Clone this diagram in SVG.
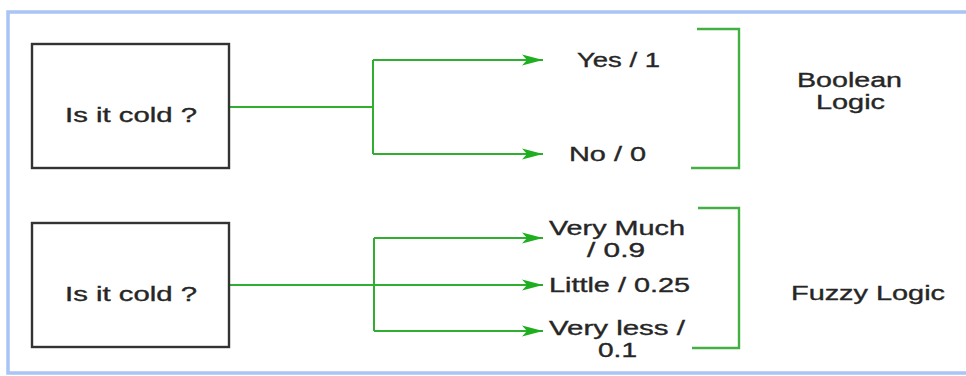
<svg xmlns="http://www.w3.org/2000/svg" width="966" height="376" viewBox="0 0 966 376">
  <style>
    .frame { fill: #ffffff; stroke: #a9c4f5; stroke-width: 3.5; }
    .box { fill: #ffffff; stroke: #333333; stroke-width: 2.4; }
    .lbl { font-family: "Liberation Sans", Arial, sans-serif; font-size: 20px; fill: #262626; stroke: #262626; stroke-width: 0.35; }
    .wire { fill: none; stroke: #2fae2f; stroke-width: 2; }
    .brk { fill: none; stroke: #44b044; stroke-width: 2.4; }
  </style>
  <defs>
    <marker id="arr" markerUnits="userSpaceOnUse" markerWidth="24" markerHeight="14" refX="21" refY="6" orient="auto">
      <path d="M0,0.5 L21,6 L0,11.5 L5,6 Z" fill="#1fae1f"/>
    </marker>
  </defs>
  <rect class="frame" x="8" y="12" width="990" height="361"/>

  <g id="connectors">
    <path class="wire" d="M229,107 H373"/>
    <path class="wire" d="M373,60 V154"/>
    <path class="wire" d="M373,60 H543" marker-end="url(#arr)"/>
    <path class="wire" d="M373,154 H543" marker-end="url(#arr)"/>
    <path class="wire" d="M374,238 V331"/>
    <path class="wire" d="M374,238 H543" marker-end="url(#arr)"/>
    <path class="wire" d="M229,285 H543" marker-end="url(#arr)"/>
    <path class="wire" d="M374,331 H543" marker-end="url(#arr)"/>
    <path class="brk" d="M697,29 H739 V168 H691"/>
    <path class="brk" d="M698,208 H739 V348 H692"/>
  </g>

  <g id="q1">
    <rect class="box" x="32" y="44" width="197" height="124"/>
    <text class="lbl" x="65" y="122" textLength="132" lengthAdjust="spacingAndGlyphs">Is it cold ?</text>
  </g>
  <g id="q2">
    <rect class="box" x="32" y="223" width="197" height="124"/>
    <text class="lbl" x="65" y="301" textLength="132" lengthAdjust="spacingAndGlyphs">Is it cold ?</text>
  </g>
  <g id="yes">
    <text class="lbl" x="577" y="67" textLength="83" lengthAdjust="spacingAndGlyphs">Yes / 1</text>
  </g>
  <g id="no">
    <text class="lbl" x="569" y="161" textLength="77" lengthAdjust="spacingAndGlyphs">No / 0</text>
  </g>
  <g id="verymuch">
    <text class="lbl" x="549" y="235" textLength="136" lengthAdjust="spacingAndGlyphs">Very Much</text>
    <text class="lbl" x="587" y="257" textLength="58" lengthAdjust="spacingAndGlyphs">/ 0.9</text>
  </g>
  <g id="little">
    <text class="lbl" x="549" y="292" textLength="141" lengthAdjust="spacingAndGlyphs">Little / 0.25</text>
  </g>
  <g id="veryless">
    <text class="lbl" x="549" y="335" textLength="136" lengthAdjust="spacingAndGlyphs">Very less /</text>
    <text class="lbl" x="598" y="357" textLength="39" lengthAdjust="spacingAndGlyphs">0.1</text>
  </g>
  <g id="boolean">
    <text class="lbl" x="797" y="87" textLength="105" lengthAdjust="spacingAndGlyphs">Boolean</text>
    <text class="lbl" x="816" y="109" textLength="69" lengthAdjust="spacingAndGlyphs">Logic</text>
  </g>
  <g id="fuzzy">
    <text class="lbl" x="791" y="300" textLength="154" lengthAdjust="spacingAndGlyphs">Fuzzy Logic</text>
  </g>
</svg>
